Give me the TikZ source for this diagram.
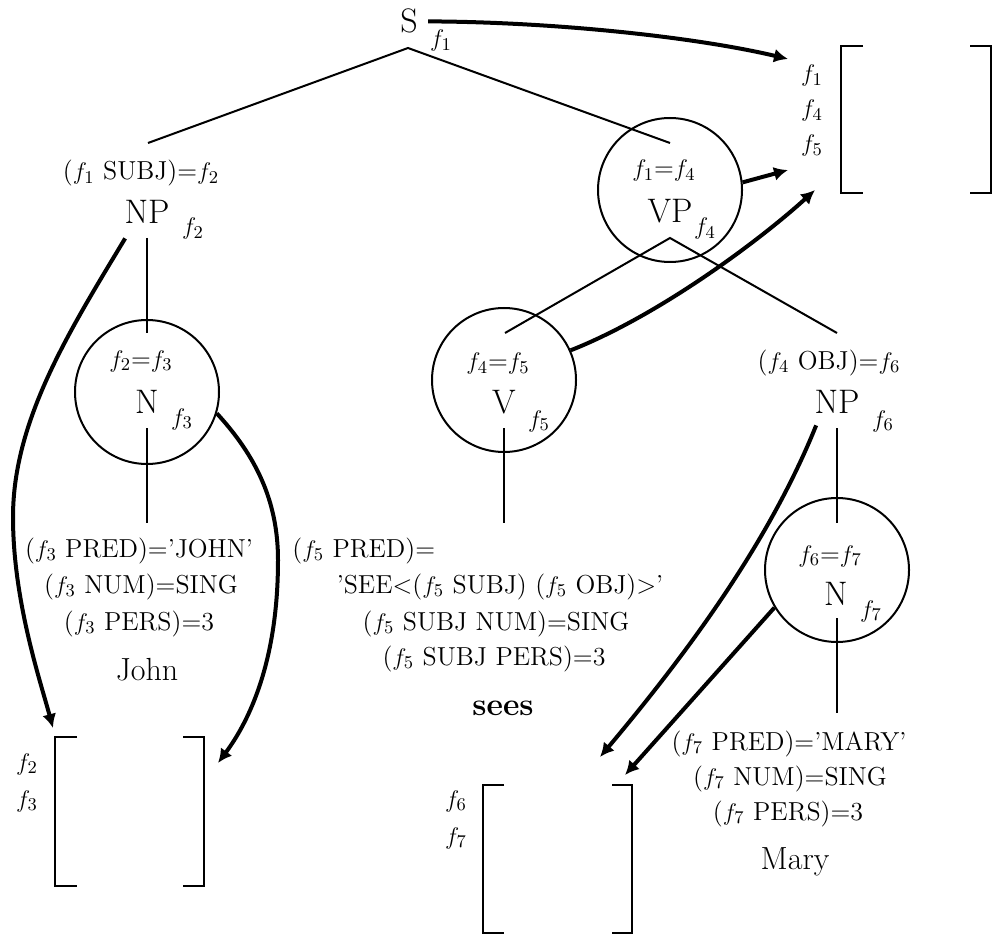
\documentclass[tikz,border=0pt]{standalone}
\usepackage{tikz}
\usetikzlibrary{arrows.meta}

\tikzset{
  lbl/.style={anchor=base, inner sep=0pt, font=\fontsize{13}{15}\selectfont},
  cat/.style={anchor=base, inner sep=0pt, font=\fontsize{17}{20}\selectfont},
  word/.style={anchor=base, inner sep=0pt, font=\fontsize{16}{19}\selectfont},
  ring/.style={draw, circle, line width=1pt, minimum size=72pt, inner sep=0pt},
  branch/.style={line width=1pt},
  brack/.style={line width=1pt},
  fmap/.style={line width=2pt, -{Latex[length=7pt,width=7pt]}},
}

\begin{document}
\begin{tikzpicture}[x=0.5pt,y=-0.5pt]
\useasboundingbox (0,0) rectangle (1000,935);

% c-structure, top
\node[cat] (s) at (409,33) {S};
\node[lbl] (sf) at (441,47) {$f_1$};
\coordinate (sroot) at (408,48);
\coordinate (subjtop) at (148,143);
\coordinate (vptop) at (670,143);
\draw[branch] (subjtop) -- (sroot) -- (vptop);

% subject NP
\node[lbl] (subj) at (141,180) {($f_1$ SUBJ)=$f_2$};
\node[cat] (np2) at (147,224) {NP};
\node[lbl] (np2f) at (193,235) {$f_2$};
\node[ring] (n3c) at (147,392) {};
\node[lbl] (eq23) at (141,367) {$f_2$=$f_3$};
\node[cat] (n3) at (147,413) {N};
\node[lbl] (n3f) at (182,425) {$f_3$};
\coordinate (np2bot) at (147,238);
\coordinate (n3top) at (147,333);
\coordinate (n3bot) at (147,428);
\coordinate (johntop) at (147,523);
\draw[branch] (np2bot) -- (n3top);
\draw[branch] (n3bot) -- (johntop);
\node[lbl] (j1) at (139,557) {($f_3$ PRED)='JOHN'};
\node[lbl] (j2) at (141,593) {($f_3$ NUM)=SING};
\node[lbl] (j3) at (139,630) {($f_3$ PERS)=3};
\node[word] (john) at (147,680) {John};

% VP and V
\node[ring] (vpc) at (670,190) {};
\node[lbl] (eq14) at (664,177) {$f_1$=$f_4$};
\node[cat] (vp) at (670,223) {VP};
\node[lbl] (vpf) at (705,235) {$f_4$};
\coordinate (vproot) at (670,238);
\coordinate (vtop) at (505,333);
\coordinate (objtop) at (837,333);
\draw[branch] (vtop) -- (vproot) -- (objtop);

\node[ring] (vc) at (504,380) {};
\node[lbl] (eq45) at (498,370) {$f_4$=$f_5$};
\node[cat] (v) at (504,413) {V};
\node[lbl] (vf) at (539,427) {$f_5$};
\coordinate (vbot) at (504,428);
\coordinate (seestop) at (504,523);
\draw[branch] (vbot) -- (seestop);
\node[lbl, anchor=base west] (s1) at (292,557) {($f_5$ PRED)=};
\node[lbl] (s2) at (500,593) {'SEE<($f_5$ SUBJ) ($f_5$ OBJ)>'};
\node[lbl] (s3) at (496,630) {($f_5$ SUBJ NUM)=SING};
\node[lbl] (s4) at (494,665) {($f_5$ SUBJ PERS)=3};
\node[word, font=\fontsize{16}{19}\selectfont\bfseries] (sees) at (503,715) {sees};

% object NP
\node[lbl] (obj) at (829,369) {($f_4$ OBJ)=$f_6$};
\node[cat] (np6) at (837,413) {NP};
\node[lbl] (np6f) at (883,427) {$f_6$};
\node[ring] (n7c) at (837,570) {};
\node[lbl] (eq67) at (830,562) {$f_6$=$f_7$};
\node[cat] (n7) at (836,605) {N};
\node[lbl] (n7f) at (871,617) {$f_7$};
\coordinate (np6bot) at (837,428);
\coordinate (n7top) at (837,523);
\coordinate (n7bot) at (837,618);
\coordinate (marytop) at (837,713);
\draw[branch] (np6bot) -- (n7top);
\draw[branch] (n7bot) -- (marytop);
\node[lbl] (m1) at (789,750) {($f_7$ PRED)='MARY'};
\node[lbl] (m2) at (790,785) {($f_7$ NUM)=SING};
\node[lbl] (m3) at (788,820) {($f_7$ PERS)=3};
\node[word] (mary) at (795,869) {Mary};

% f-structures
\draw[brack] (863,46) -- (841,46) -- (841,193) -- (863,193);
\draw[brack] (970,46) -- (991,46) -- (991,193) -- (970,193);
\node[lbl] (fa1) at (812,82) {$f_1$};
\node[lbl] (fa4) at (812,117) {$f_4$};
\node[lbl] (fa5) at (812,152) {$f_5$};

\draw[brack] (77,737) -- (55,737) -- (55,886) -- (77,886);
\draw[brack] (183,737) -- (204,737) -- (204,886) -- (183,886);
\node[lbl] (fb2) at (27,770) {$f_2$};
\node[lbl] (fb3) at (27,807) {$f_3$};

\draw[brack] (504,785) -- (483,785) -- (483,933) -- (504,933);
\draw[brack] (612,785) -- (632,785) -- (632,933) -- (612,933);
\node[lbl] (fc6) at (456,807) {$f_6$};
\node[lbl] (fc7) at (456,844) {$f_7$};

% mapping arrows
\coordinate (fsA) at (788,59);
\coordinate (fsB) at (788,170);
\coordinate (fsC) at (815,190);
\coordinate (fsD) at (53,728);
\coordinate (fsE) at (218,763);
\coordinate (fsF) at (600,757);
\coordinate (fsG) at (625,775);
\draw[fmap] ([xshift=5pt]s.east) .. controls (560,22) and (700,38) .. (fsA);
\draw[fmap] (vpc.6) -- (fsB);
\draw[fmap] (vc.24) .. controls (660,315) and (760,240) .. (fsC);
\draw[fmap] ([xshift=0.5pt,yshift=-7pt]np2.south west) .. controls (70,330) and (13,420) .. (13,517)
  .. controls (13,600) and (40,680) .. (fsD);
\draw[fmap] (n3c.-17) .. controls (255,455) and (278,500) .. (278,560)
  .. controls (278,660) and (250,720) .. (fsE);
\draw[fmap] ([xshift=1pt,yshift=-6pt]np6.south west) .. controls (770,540) and (690,650) .. (fsF);
\draw[fmap] (n7c.211) -- (fsG);
\end{tikzpicture}
\end{document}
